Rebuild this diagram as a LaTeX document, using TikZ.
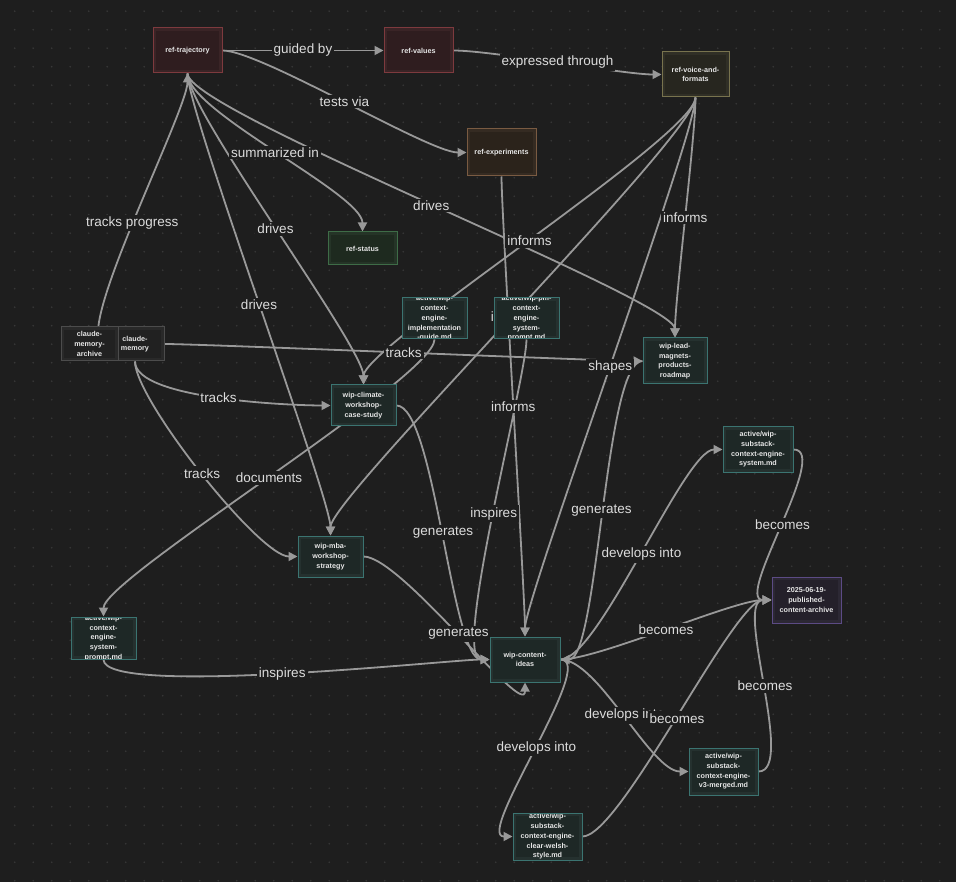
\documentclass[tikz,border=0pt]{standalone}
\usepackage{fontspec}
\setmainfont{Liberation Sans}
\usetikzlibrary{arrows.meta}
\definecolor{bgc}{HTML}{1E1E1E}
\definecolor{dotc}{HTML}{383838}
\definecolor{edgec}{HTML}{999999}
\definecolor{lblc}{HTML}{DCDCDC}
\definecolor{ntxt}{HTML}{E6E6E6}
\definecolor{redb}{HTML}{7E3A3E}\definecolor{redf}{HTML}{3A2426}
\definecolor{yelb}{HTML}{78734E}\definecolor{yelf}{HTML}{302F26}
\definecolor{orab}{HTML}{7A5B42}\definecolor{oraf}{HTML}{352B22}
\definecolor{grnb}{HTML}{3E6C47}\definecolor{grnf}{HTML}{253427}
\definecolor{cynb}{HTML}{3B7471}\definecolor{cynf}{HTML}{25312F}
\definecolor{purb}{HTML}{5C4B85}\definecolor{purf}{HTML}{2C2834}
\definecolor{gryb}{HTML}{4C4C4C}\definecolor{gryf}{HTML}{292929}
\pgfdeclarelayer{bglayer}
\pgfdeclarelayer{edgelayer}
\pgfdeclarelayer{labellayer}
\pgfsetlayers{bglayer,edgelayer,labellayer,main}
\tikzset{
  cbox/.style={draw=#1b, fill=#1f, line width=1pt, inner sep=0pt, rectangle},
  ntext/.style={font=\fontsize{7.2}{9.7}\selectfont\bfseries, text=ntxt, align=center, inner sep=0pt},
  conn/.style={draw=edgec, line width=1.8pt, -{Triangle[length=9pt,width=9pt]}},
  lbl/.style={fill=bgc, text=lblc, font=\fontsize{13.5}{15}\selectfont, inner sep=2pt},
}
\newcommand\cnode[6]{%
  \node[cbox=#1, minimum width=#4pt, minimum height=#5pt,
    path picture={
      \fill[black, fill opacity=0.18] ([shift={(3pt,-3pt)}]path picture bounding box.north west) rectangle ([shift={(-3pt,3pt)}]path picture bounding box.south east);
      \node[ntext] at (path picture bounding box.center) {#6};
    }] (#2) at (#3) {};}
\begin{document}
\begin{tikzpicture}[x=1pt,y=-1pt]
\begin{pgfonlayer}{bglayer}
\fill[bgc] (0,0) rectangle (956,882);
\foreach \i in {0,...,50}{\foreach \j in {0,...,47}{\fill[dotc] (14.7+\i*18.5,11.2+\j*18.5) circle (0.9pt);}}
\end{pgfonlayer}
\useasboundingbox (0,0) rectangle (956,882);
% nodes
\cnode{red}{traj}{187.5,50.5}{69}{45}{ref-trajectory}
\cnode{red}{values}{418.5,50.5}{69}{45}{ref-values}
\cnode{yel}{voice}{695.5,74.5}{67}{45}{ref-voice-and-\\formats}
\cnode{ora}{exper}{501.5,152.5}{69}{47}{ref-experiments}
\cnode{grn}{status}{362.5,248.5}{69}{33}{ref-status}
\cnode{cyn}{impl}{434.5,318.5}{65}{41}{active/wip-\\context-\\engine-\\implementation\\-guide.md}
\cnode{cyn}{pm}{526.5,318.5}{65}{41}{active/wip-pm-\\context-\\engine-\\system-\\prompt.md}
\cnode{gry}{memory}{135,344}{58}{34}{claude-\\memory}
\cnode{gry}{archive}{89.5,344}{57}{34}{claude-\\memory-\\archive}
\cnode{cyn}{lead}{675,361}{64}{46}{wip-lead-\\magnets-\\products-\\roadmap}
\cnode{cyn}{climate}{363.5,405.5}{65}{41}{wip-climate-\\workshop-\\case-study}
\cnode{cyn}{substack}{758,449.5}{70}{45}{active/wip-\\substack-\\context-engine-\\system.md}
\cnode{cyn}{mba}{330.5,556.5}{65}{41}{wip-mba-\\workshop-\\strategy}
\cnode{pur}{pub}{806.5,600}{69}{46}{2025-06-19-\\published-\\content-archive}
\cnode{cyn}{leftprompt}{103.5,638}{65}{42}{active/wip-\\context-\\engine-\\system-\\prompt.md}
\cnode{cyn}{ideas}{525,659.5}{70}{45}{wip-content-\\ideas}
\cnode{cyn}{v3}{723.5,771.5}{69}{47}{active/wip-\\substack-\\context-engine-\\v3-merged.md}
\cnode{cyn}{welsh}{547.5,836.5}{69}{47}{active/wip-\\substack-\\context-engine-\\clear-welsh-\\style.md}
% edges
\begin{pgfonlayer}{edgelayer}
\draw[conn] (traj.east) .. controls +(38,0) and +(-38,0) .. (values.west) coordinate[pos=.5] (l1);
\draw[conn] (values.east) .. controls +(38,0) and +(-38,0) .. (voice.west) coordinate[pos=.5] (l2);
\draw[conn] (traj.east) .. controls +(38,0) and +(-38,0) .. (exper.west) coordinate[pos=.5] (l3);
\draw[conn] (memory.west) .. controls +(-38,0) and +(0,38) .. (traj.south) coordinate[pos=.5] (l4);
\draw[conn] (traj.south) .. controls +(0,38) and +(0,-38) .. (status.north) coordinate[pos=.5] (l5);
\draw[conn] (traj.south) .. controls +(0,38) and +(0,-38) .. (climate.north) coordinate[pos=.5] (l6);
\draw[conn] (traj.south) .. controls +(0,38) and +(0,-38) .. (mba.north) coordinate[pos=.5] (l7);
\draw[conn] (traj.south) .. controls +(0,38) and +(0,-38) .. (lead.north) coordinate[pos=.5] (l8);
\draw[conn] (voice.south) .. controls +(0,38) and +(0,-38) .. (climate.north) coordinate[pos=.5] (l9);
\draw[conn] (voice.south) .. controls +(0,38) and +(0,-38) .. (lead.north) coordinate[pos=.5] (l10);
\draw[conn] (voice.south) .. controls +(0,38) and +(0,-38) .. (mba.north) coordinate[pos=.5] (l11);
\draw[conn] (voice.south) .. controls +(0,38) and +(0,-38) .. (ideas.north) coordinate[pos=.5] (l12);
\draw[conn] (exper.south) .. controls +(0,38) and +(0,-38) .. (ideas.north) coordinate[pos=.5] (l13);
\draw[conn] (memory.east) .. controls +(38,0) and +(-38,0) .. (lead.west) coordinate[pos=.5] (l14);
\draw[conn] (memory.south) .. controls +(0,38) and +(-38,0) .. (climate.west) coordinate[pos=.5] (l15);
\draw[conn] (memory.south) .. controls +(0,38) and +(-38,0) .. (mba.west) coordinate[pos=.5] (l16);
\draw[conn] (impl.south) .. controls +(0,38) and +(0,-38) .. (leftprompt.north) coordinate[pos=.5] (l17);
\draw[conn] (climate.east) .. controls +(38,0) and +(-38,0) .. (ideas.west) coordinate[pos=.5] (l18);
\draw[conn] (mba.east) .. controls +(38,0) and +(0,38) .. (ideas.south) coordinate[pos=.5] (l19);
\draw[conn] (leftprompt.south) .. controls +(0,38) and +(-38,0) .. (ideas.west) coordinate[pos=.5] (l20);
\draw[conn] (pm.south) .. controls +(0,38) and +(-38,0) .. (ideas.west) coordinate[pos=.5] (l21);
\draw[conn] (lead.west) .. controls +(-38,0) and +(38,0) .. (ideas.east) coordinate[pos=.5] (l22);
\draw[conn] (ideas.east) .. controls +(38,0) and +(-38,0) .. (substack.west) coordinate[pos=.5] (l23);
\draw[conn] (ideas.east) .. controls +(38,0) and +(-38,0) .. (v3.west) coordinate[pos=.5] (l24);
\draw[conn] (ideas.east) .. controls +(38,0) and +(-38,0) .. (welsh.west) coordinate[pos=.5] (l25);
\draw[conn] (ideas.east) .. controls +(38,0) and +(-38,0) .. (pub.west) coordinate[pos=.5] (l26);
\draw[conn] (substack.east) .. controls +(38,0) and +(-38,0) .. (pub.west) coordinate[pos=.5] (l27);
\draw[conn] (v3.east) .. controls +(38,0) and +(-38,0) .. (pub.west) coordinate[pos=.5] (l28);
\draw[conn] (welsh.east) .. controls +(38,0) and +(-38,0) .. (pub.west) coordinate[pos=.5] (l29);
\end{pgfonlayer}
% labels
\begin{pgfonlayer}{labellayer}
\node[lbl] (t1) at (l1) {guided by};
\node[lbl] (t2) at (l2) {expressed through};
\node[lbl] (t3) at (l3) {tests via};
\node[lbl] (t4) at (l4) {tracks progress};
\node[lbl] (t5) at (l5) {summarized in};
\node[lbl] (t6) at (l6) {drives};
\node[lbl] (t7) at (l7) {drives};
\node[lbl] (t8) at (l8) {drives};
\node[lbl] (t9) at (l9) {informs};
\node[lbl] (t10) at (l10) {informs};
\node[lbl] (t11) at (l11) {informs};
\node[lbl] (t12) at (l12) {shapes};
\node[lbl] (t13) at (l13) {informs};
\node[lbl] (t14) at (l14) {tracks};
\node[lbl] (t15) at (l15) {tracks};
\node[lbl] (t16) at (l16) {tracks};
\node[lbl] (t17) at (l17) {documents};
\node[lbl] (t18) at (l18) {generates};
\node[lbl] (t19) at (l19) {generates};
\node[lbl] (t20) at (l20) {inspires};
\node[lbl] (t21) at (l21) {inspires};
\node[lbl] (t22) at (l22) {generates};
\node[lbl] (t23) at (l23) {develops into};
\node[lbl] (t24) at (l24) {develops into};
\node[lbl] (t25) at (l25) {develops into};
\node[lbl] (t26) at (l26) {becomes};
\node[lbl] (t27) at (l27) {becomes};
\node[lbl] (t28) at (l28) {becomes};
\node[lbl] (t29) at (l29) {becomes};
\end{pgfonlayer}
\end{tikzpicture}
\end{document}
